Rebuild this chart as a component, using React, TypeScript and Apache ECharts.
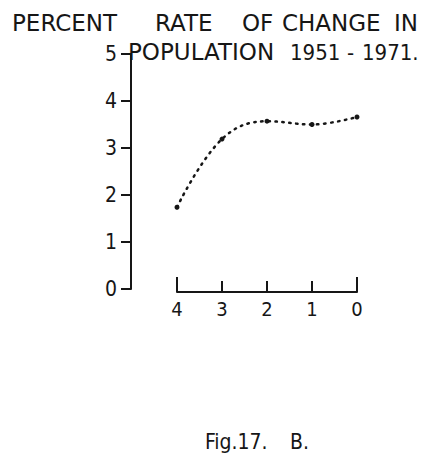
import React, { useEffect, useRef } from "react";
import * as echarts from "echarts";

const xTicks = [4, 3, 2, 1, 0];
const rates = [1.74, 3.19, 3.57, 3.5, 3.66];
const titleLine1 = ["PERCENT", "RATE", "OF", "CHANGE", "IN"];
const titleLine2 = ["POPULATION", "1951", "-", "1971."];
const caption = ["Fig.17.", "B."];

const FONT = '"DejaVu Sans"';
const NFONT = '"DejaVu Sans Condensed", "DejaVu Sans"';
const INK = "#161616";

export default function App() {
  const ref = useRef<HTMLDivElement>(null);
  useEffect(() => {
    if (!ref.current) return;
    const chart = echarts.init(ref.current, undefined, { renderer: "svg" });
    const l1x = [12, 155, 242, 282, 394];
    const l2x = [128, 290, 347, 362];
    const l2num = [false, true, true, true];
    const capx = [205, 290];
    const txt = (s: string, x: number, y: number, font: string) => ({
      type: "text",
      x,
      y,
      style: {
        text: s,
        font,
        fill: INK,
        textVerticalAlign: "middle",
        textAlign: "left",
      },
    });
    chart.setOption({
      animation: false,
      backgroundColor: "#ffffff",
      grid: { left: 177, right: 70, top: 54, bottom: 165 },
      xAxis: [
        {
          type: "value",
          inverse: true,
          min: 0,
          max: 4,
          interval: 1,
          offset: 3,
          splitLine: { show: false },
          axisLine: { show: true, onZero: false, lineStyle: { color: INK, width: 2 } },
          axisTick: { show: true, inside: true, length: 11, lineStyle: { color: INK, width: 2 } },
          axisLabel: { fontSize: 20, color: INK, fontFamily: NFONT, margin: 7 },
        },
        {
          type: "value",
          inverse: true,
          min: 0,
          max: 4,
          interval: 4,
          offset: 3,
          position: "bottom",
          splitLine: { show: false },
          axisLine: { show: false, onZero: false },
          axisTick: { show: true, inside: true, length: 15, lineStyle: { color: INK, width: 2 } },
          axisLabel: { show: false },
        },
      ],
      yAxis: {
        type: "value",
        min: 0,
        max: 5,
        interval: 1,
        offset: 46,
        position: "left",
        splitLine: { show: false },
        axisLine: { show: true, onZero: false, lineStyle: { color: INK, width: 2 } },
        axisTick: { show: true, inside: false, length: 10, lineStyle: { color: INK, width: 2 } },
        axisLabel: { fontSize: 21, color: INK, fontFamily: NFONT, margin: 14 },
      },
      series: [
        {
          type: "line",
          xAxisIndex: 0,
          data: xTicks.map((x, i) => [x, rates[i]]),
          smooth: 0.4,
          symbol: "circle",
          symbolSize: 5,
          itemStyle: { color: INK },
          lineStyle: { color: INK, width: 2.5, type: [1.5, 5.5], cap: "round" },
        },
      ],
      graphic: [
        ...titleLine1.map((s, i) => txt(s, l1x[i], 23, `23px ${FONT}`)),
        ...titleLine2.map((s, i) =>
          txt(s, l2x[i], 52, l2num[i] ? `22px ${NFONT}` : `23px ${FONT}`)
        ),
        ...caption.map((s, i) => txt(s, capx[i], 442, `21px ${NFONT}`)),
      ],
    });
    return () => chart.dispose();
  }, []);
  return (
    <div
      ref={ref}
      style={{ position: "fixed", left: 0, top: 0, width: 427, height: 454, background: "#fff" }}
    />
  );
}
